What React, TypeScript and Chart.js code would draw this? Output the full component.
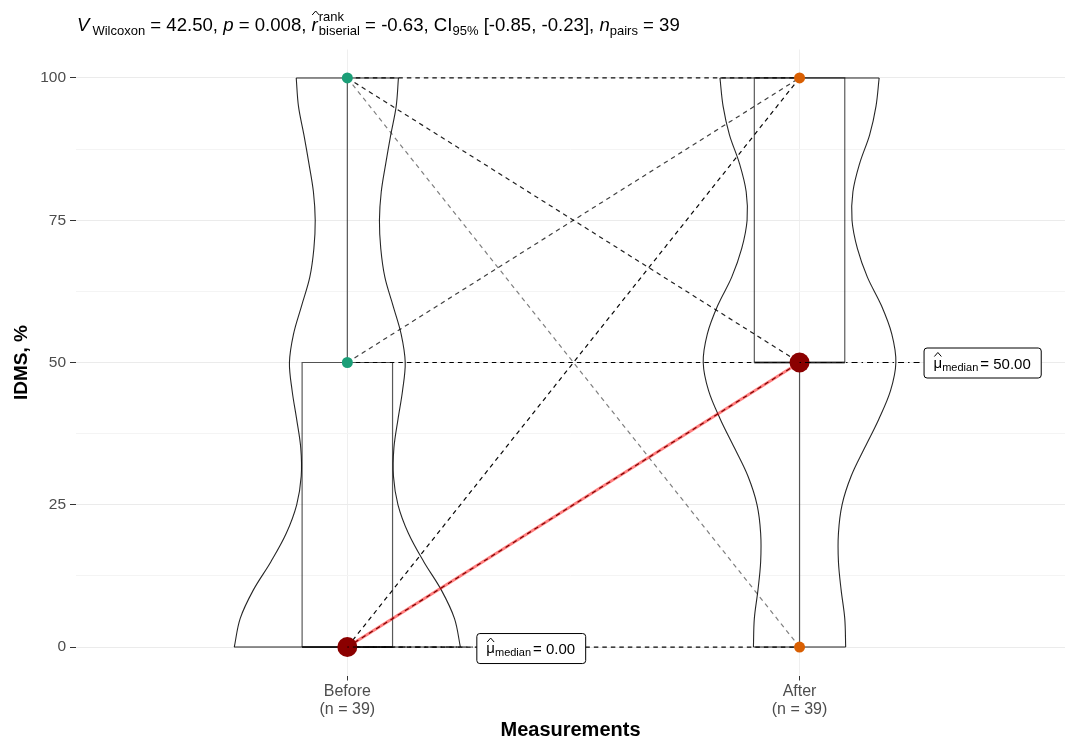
import React, { useEffect, useRef } from 'react';
import { Chart, registerables } from 'chart.js';

Chart.register(...registerables);

const FONT = '"Liberation Sans", Arial, Helvetica, sans-serif';

// categories on the x axis and their sample sizes
const categories = ['Before', 'After'];
const categoryCounts = [39, 39];

// y axis ticks (labelled majors and unlabelled minor grid lines)
const yMajorTicks = [0, 25, 50, 75, 100];
const yMinorTicks = [12.5, 37.5, 62.5, 87.5];

// paired observations: value before, value after, number of participants
const pairBefore = [100, 100, 100, 50, 50, 0, 0, 0];
const pairAfter = [100, 50, 0, 100, 50, 100, 50, 0];
const pairCount = [4, 3, 1, 2, 9, 5, 10, 5];

// box-plot summaries per category
const boxLower = [0, 50];
const boxMiddle = [0, 50];
const boxUpper = [50, 100];
const whiskerMin = [0, 0];
const whiskerMax = [100, 100];

// group medians
const groupMedians = [0, 50];

// violin half-widths (in category units) at each IDMS level
const violinLevels = [0, 5, 10, 15, 20, 25, 30, 35, 40, 45, 50, 55, 60, 65, 70, 75, 80, 85, 90, 95, 100];
const violinBefore = [0.25, 0.237, 0.208, 0.169, 0.135, 0.112, 0.102, 0.103, 0.112, 0.122, 0.128, 0.119, 0.101, 0.083, 0.074, 0.071, 0.075, 0.085, 0.096, 0.108, 0.113];
const violinAfter = [0.102, 0.1, 0.092, 0.086, 0.086, 0.094, 0.114, 0.144, 0.175, 0.201, 0.213, 0.204, 0.181, 0.15, 0.128, 0.116, 0.118, 0.133, 0.155, 0.169, 0.176];

// test results shown in the subtitle
const statisticV = '42.50';
const pValue = '0.008';
const rankBiserial = '-0.63';
const ciLower = '-0.85';
const ciUpper = '-0.23';
const nPairs = 39;

const pointColors = ['#1B9E77', '#D95F02'];

type P = { x: number; y: number };

function lineDs(data: P[], color: string, width: number, order: number, extra: any = {}) {
  return {
    type: 'line',
    data,
    borderColor: color,
    borderWidth: width,
    pointRadius: 0,
    pointHoverRadius: 0,
    fill: false,
    tension: 0,
    order,
    ...extra,
  };
}

function buildDatasets() {
  const ds: any[] = [];
  const violinColor = 'rgba(0,0,0,0.85)';
  [violinBefore, violinAfter].forEach((hw, i) => {
    const c = i + 1;
    const last = hw.length - 1;
    ds.push(lineDs(violinLevels.map((y, k) => ({ x: c - hw[k], y })), violinColor, 1.1, 30, { tension: 0.35 }));
    ds.push(lineDs(violinLevels.map((y, k) => ({ x: c + hw[k], y })), violinColor, 1.1, 30, { tension: 0.35 }));
    ds.push(lineDs([{ x: c - hw[0], y: violinLevels[0] }, { x: c + hw[0], y: violinLevels[0] }], violinColor, 1.1, 30));
    ds.push(lineDs([{ x: c - hw[last], y: violinLevels[last] }, { x: c + hw[last], y: violinLevels[last] }], violinColor, 1.1, 30));
  });

  const boxColor = 'rgba(0,0,0,0.65)';
  const half = 0.1;
  categories.forEach((_, i) => {
    const c = i + 1;
    ds.push(lineDs([
      { x: c - half, y: boxLower[i] }, { x: c + half, y: boxLower[i] },
      { x: c + half, y: boxUpper[i] }, { x: c - half, y: boxUpper[i] },
      { x: c - half, y: boxLower[i] },
    ], boxColor, 1.2, 25));
    ds.push(lineDs([{ x: c - half, y: boxMiddle[i] }, { x: c + half, y: boxMiddle[i] }], boxColor, 2, 25));
    ds.push(lineDs([{ x: c, y: boxUpper[i] }, { x: c, y: whiskerMax[i] }], boxColor, 1.2, 25));
    ds.push(lineDs([{ x: c, y: whiskerMin[i] }, { x: c, y: boxLower[i] }], boxColor, 1.2, 25));
  });

  pairBefore.forEach((b, k) => {
    const alpha = 1 - Math.pow(0.5, pairCount[k]);
    ds.push(lineDs([{ x: 1, y: b }, { x: 2, y: pairAfter[k] }], `rgba(0,0,0,${alpha})`, 1.2, 20, { borderDash: [4.5, 4] }));
  });

  const groups = [pairBefore, pairAfter];
  groups.forEach((vals, i) => {
    const uniq = Array.from(new Set(vals));
    ds.push({
      type: 'scatter',
      data: uniq.map((v) => ({ x: i + 1, y: v })),
      backgroundColor: pointColors[i],
      borderWidth: 0,
      pointRadius: 5.5,
      pointHoverRadius: 5.5,
      order: 15,
    });
  });

  ds.push(lineDs(groupMedians.map((m, i) => ({ x: i + 1, y: m })), 'rgba(255,0,0,0.5)', 3, 12));
  ds.push({
    type: 'scatter',
    data: groupMedians.map((m, i) => ({ x: i + 1, y: m })),
    backgroundColor: '#8B0000',
    borderWidth: 0,
    pointRadius: 10,
    pointHoverRadius: 10,
    order: 10,
  });
  return ds;
}

function drawHat(ctx: CanvasRenderingContext2D, cx: number, top: number, w: number) {
  ctx.save();
  ctx.beginPath();
  ctx.lineWidth = 1;
  ctx.strokeStyle = '#000';
  ctx.moveTo(cx - w / 2, top + 4);
  ctx.lineTo(cx, top);
  ctx.lineTo(cx + w / 2, top + 4);
  ctx.stroke();
  ctx.restore();
}

const LABEL_OFFSETS = [129, 124];

const overlayPlugin = {
  id: 'overlay',
  afterDatasetsDraw(chart: any) {
    const { ctx, scales } = chart;
    const xs = scales.x;
    const ys = scales.y;
    groupMedians.forEach((m, i) => {
      const px = xs.getPixelForValue(i + 1);
      const py = ys.getPixelForValue(m);
      const big = 15;
      const small = 11;
      const valueText = `= ${m.toFixed(2)}`;
      ctx.save();
      ctx.font = `${big}px ${FONT}`;
      const wMu = ctx.measureText('\u03bc').width;
      const wVal = ctx.measureText(valueText).width;
      ctx.font = `${small}px ${FONT}`;
      const wSub = ctx.measureText('median').width;
      const textW = wMu + wSub + 2 + wVal;
      const padX = 10;
      const boxW = textW + padX * 2;
      const boxH = 30;
      const left = px + LABEL_OFFSETS[i];
      const top = py - boxH / 2 + (i === 0 ? 1 : 0);

      // connector from the median to its label
      ctx.beginPath();
      ctx.setLineDash([1.5, 4, 6, 4]);
      ctx.strokeStyle = '#000';
      ctx.lineWidth = 1;
      ctx.moveTo(px, py);
      ctx.lineTo(left, py);
      ctx.stroke();
      ctx.setLineDash([]);

      // label box
      ctx.beginPath();
      ctx.roundRect(left + 0.5, top + 0.5, boxW, boxH, 3);
      ctx.fillStyle = '#FFFFFF';
      ctx.fill();
      ctx.strokeStyle = '#000';
      ctx.lineWidth = 1;
      ctx.stroke();

      const base = top + boxH / 2 + 6;
      let tx = left + padX;
      ctx.fillStyle = '#000';
      ctx.textBaseline = 'alphabetic';
      ctx.textAlign = 'left';
      ctx.font = `${big}px ${FONT}`;
      ctx.fillText('\u03bc', tx, base - 1);
      drawHat(ctx, tx + wMu / 2, base - 16, 7);
      tx += wMu;
      ctx.font = `${small}px ${FONT}`;
      ctx.fillText('median', tx, base + 2);
      tx += wSub + 2;
      ctx.font = `${big}px ${FONT}`;
      ctx.fillText(valueText, tx, base);
      ctx.restore();
    });
  },
  afterDraw(chart: any) {
    const { ctx } = chart;
    const big = 18.6;
    const small = 13;
    const y = 31;
    let x = 77;
    ctx.save();
    ctx.fillStyle = '#000';
    ctx.textBaseline = 'alphabetic';
    ctx.textAlign = 'left';
    const put = (text: string, size: number, italic: boolean, dy: number) => {
      ctx.font = `${italic ? 'italic ' : ''}${size}px ${FONT}`;
      ctx.fillText(text, x, y + dy);
      const w = ctx.measureText(text).width;
      x += w;
      return w;
    };
    put('V', big, true, 0);
    x += 3;
    put('Wilcoxon', small, false, 4);
    put(` = ${statisticV}, `, big, false, 0);
    put('p', big, true, 0);
    put(` = ${pValue}, `, big, false, 0);
    const rx = x;
    const rw = put('r', big, true, 0);
    drawHat(ctx, rx + rw / 2 + 1, y - 20, 7);
    x += 1;
    ctx.font = `${small}px ${FONT}`;
    const w1 = ctx.measureText('rank').width;
    const w2 = ctx.measureText('biserial').width;
    ctx.fillText('rank', x, y - 10);
    ctx.fillText('biserial', x, y + 4);
    x += Math.max(w1, w2);
    put(` = ${rankBiserial}, CI`, big, false, 0);
    put('95%', small, false, 4);
    put(` [${ciLower}, ${ciUpper}], `, big, false, 0);
    put('n', big, true, 0);
    put('pairs', small, false, 4);
    put(` = ${nPairs}`, big, false, 0);
    ctx.restore();
  },
};

export default function App() {
  const ref = useRef<HTMLCanvasElement | null>(null);

  useEffect(() => {
    if (!ref.current) return;
    const allYTicks = [...yMajorTicks, ...yMinorTicks].sort((a, b) => a - b);
    const isMajor = (v: number) => yMajorTicks.includes(v);
    const chart = new Chart(ref.current, {
      type: 'scatter',
      data: { datasets: buildDatasets() as any },
      options: {
        animation: false,
        responsive: false,
        events: [],
        layout: { autoPadding: false, padding: { top: 49.5, right: 0, bottom: 0, left: 0 } },
        plugins: { legend: { display: false }, tooltip: { enabled: false }, title: { display: false } },
        scales: {
          x: {
            type: 'linear',
            min: 0.4,
            max: 2.587,
            afterBuildTicks: (s: any) => {
              s.ticks = categories.map((_, i) => ({ value: i + 1 }));
            },
            afterFit: (s: any) => {
              s.height = 66.5;
              s.paddingLeft = 0;
              s.paddingRight = 0;
            },
            ticks: {
              autoSkip: false,
              maxRotation: 0,
              padding: 2,
              color: '#4D4D4D',
              font: { family: FONT, size: 16, lineHeight: 1.13 },
              callback: (v: any) => {
                const i = Math.round(Number(v)) - 1;
                return [categories[i], `(n = ${categoryCounts[i]})`];
              },
            },
            grid: { color: '#EFEFEF', tickColor: '#333333', tickLength: 5, lineWidth: 1 },
            border: { display: false },
            title: {
              display: true,
              text: 'Measurements',
              color: '#000',
              font: { family: FONT, size: 20, weight: 'bold' },
              padding: { top: 0, bottom: 0 },
            },
          },
          y: {
            type: 'linear',
            min: -5,
            max: 105,
            afterBuildTicks: (s: any) => {
              s.ticks = allYTicks.map((v) => ({ value: v }));
            },
            afterFit: (s: any) => {
              s.width = 76;
              s.paddingTop = 0;
              s.paddingBottom = 0;
            },
            ticks: {
              autoSkip: false,
              padding: 4,
              color: '#4D4D4D',
              font: { family: FONT, size: 15.5 },
              callback: (v: any) => (isMajor(Number(v)) ? String(v) : ''),
            },
            grid: {
              color: (c: any) => (isMajor(c.tick?.value) ? '#EBEBEB' : '#F4F4F4'),
              tickColor: (c: any) => (isMajor(c.tick?.value) ? '#333333' : 'rgba(0,0,0,0)'),
              tickLength: 6,
              lineWidth: 1,
            },
            border: { display: false },
            title: {
              display: true,
              text: 'IDMS, %',
              color: '#000',
              font: { family: FONT, size: 19, weight: 'bold' },
              padding: { top: 10, bottom: 0 },
            },
          },
        },
      },
      plugins: [overlayPlugin],
    } as any);
    return () => chart.destroy();
  }, []);

  return (
    <div style={{ position: 'absolute', left: 0, top: 0, width: 1065, height: 742, background: '#FFFFFF' }}>
      <canvas ref={ref} width={1065} height={742} style={{ display: 'block' }} />
    </div>
  );
}
